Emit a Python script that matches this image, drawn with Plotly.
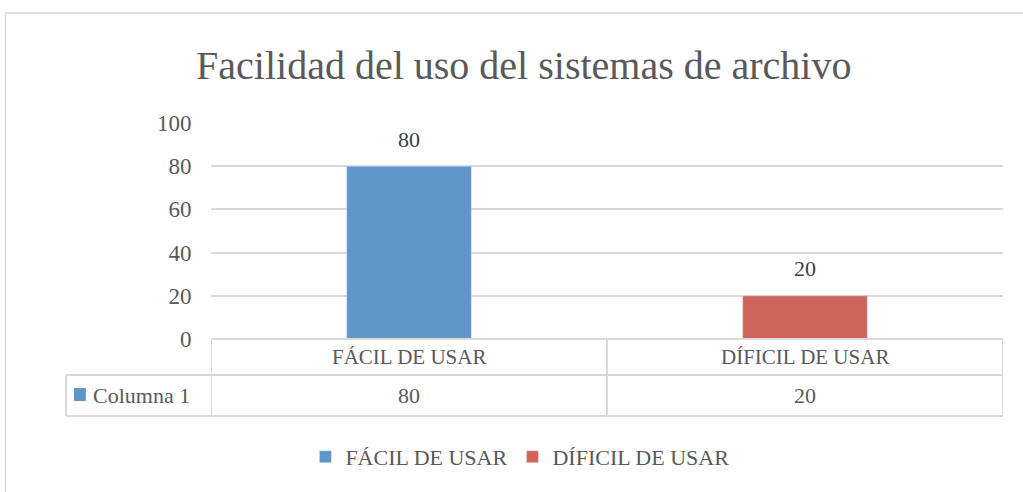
import plotly.graph_objects as go

categories = ["FÁCIL DE USAR", "DÍFICIL DE USAR"]
values = [80, 20]
colors = ["#6096c9", "#cf645c"]
series_name = "Columna 1"
title = "Facilidad del uso del sistemas de archivo"
y_ticks = [0, 20, 40, 60, 80, 100]

FONT = "Liberation Serif"
TXT = "#595959"
GRID = "#d9d9d9"

fig = go.Figure()
for c, v, col in zip(categories, values, colors):
    fig.add_trace(go.Bar(x=[c], y=[v], name=c, marker_color=col, width=0.315,
                         hoverinfo="x+y"))

# data labels
for c, v in zip(categories, values):
    fig.add_annotation(x=c, y=v, text=str(v), showarrow=False, yshift=27,
                       font=dict(family=FONT, size=22, color="#404040"), yanchor="middle")

shapes = []
# outer chart border
shapes.append(dict(type="rect", xref="paper", yref="paper", x0=-0.2595, x1=1.04,
                   y0=-0.76, y1=1.509, line=dict(color="#d9d9d9", width=1.5), layer="below"))
# table
row1 = -0.167
row2 = -0.356
left_col = -0.183
lw = 2
shapes.append(dict(type="line", xref="x", yref="paper", x0=-0.5, x1=1.5, y0=0, y1=0,
                   line=dict(color=GRID, width=lw)))
shapes.append(dict(type="line", xref="paper", yref="paper", x0=left_col, x1=1.0, y0=row1, y1=row1,
                   line=dict(color=GRID, width=lw)))
shapes.append(dict(type="line", xref="paper", yref="paper", x0=left_col, x1=1.0, y0=row2, y1=row2,
                   line=dict(color=GRID, width=lw)))
for xb in [-0.5, 0.5, 1.5]:
    shapes.append(dict(type="line", xref="x", yref="paper", x0=xb, x1=xb, y0=0, y1=row2,
                       line=dict(color=GRID, width=lw)))
shapes.append(dict(type="line", xref="paper", yref="paper", x0=left_col, x1=left_col, y0=row1, y1=row2,
                   line=dict(color=GRID, width=lw)))
# legend key for table row
shapes.append(dict(type="rect", xref="paper", yref="paper", x0=-0.173, x1=-0.158, y0=-0.227, y1=-0.287,
                   fillcolor=colors[0], line=dict(width=0)))

annotations = []
for c, v in zip(categories, values):
    annotations.append(dict(x=c, y=(0 + row1) / 2, xref="x", yref="paper", text=c, showarrow=False,
                            font=dict(family=FONT, size=21, color=TXT), yanchor="middle"))
    annotations.append(dict(x=c, y=(row1 + row2) / 2, xref="x", yref="paper", text=str(v), showarrow=False,
                            font=dict(family=FONT, size=22, color=TXT), yanchor="middle"))
annotations.append(dict(x=-0.151, y=(row1 + row2) / 2, xref="paper", yref="paper", text=series_name,
                        showarrow=False, xanchor="left", yanchor="middle",
                        font=dict(family=FONT, size=22, color=TXT)))
for a in annotations:
    fig.add_annotation(**a)

fig.update_layout(
    width=1023, height=492,
    margin=dict(l=211, r=20, t=123, b=153),
    paper_bgcolor="white", plot_bgcolor="white",
    barmode="overlay",
    title=dict(text=title, x=0.512, xanchor="center", y=0.868, yanchor="middle",
               font=dict(family=FONT, size=40, color=TXT)),
    font=dict(family=FONT, color=TXT),
    showlegend=True,
    legend=dict(orientation="h", x=0.39, xanchor="center", y=-0.546, yanchor="middle",
                font=dict(family=FONT, size=22, color=TXT), itemwidth=30, traceorder="normal"),
    shapes=shapes,
    xaxis=dict(showticklabels=False, showgrid=False, zeroline=False, showline=False,
               range=[-0.5, 1.5], fixedrange=True),
    yaxis=dict(range=[0, 100], tickvals=y_ticks, showgrid=True, gridcolor=GRID, gridwidth=1.5,
               zeroline=False, showline=False, ticks="outside", ticklen=14,
               tickcolor="rgba(0,0,0,0)", tickfont=dict(family=FONT, size=23, color=TXT),
               fixedrange=True),
)

fig.write_html("out.html", config={"displayModeBar": False},
               post_script="document.body.style.margin='0';document.body.style.overflow='hidden';")
